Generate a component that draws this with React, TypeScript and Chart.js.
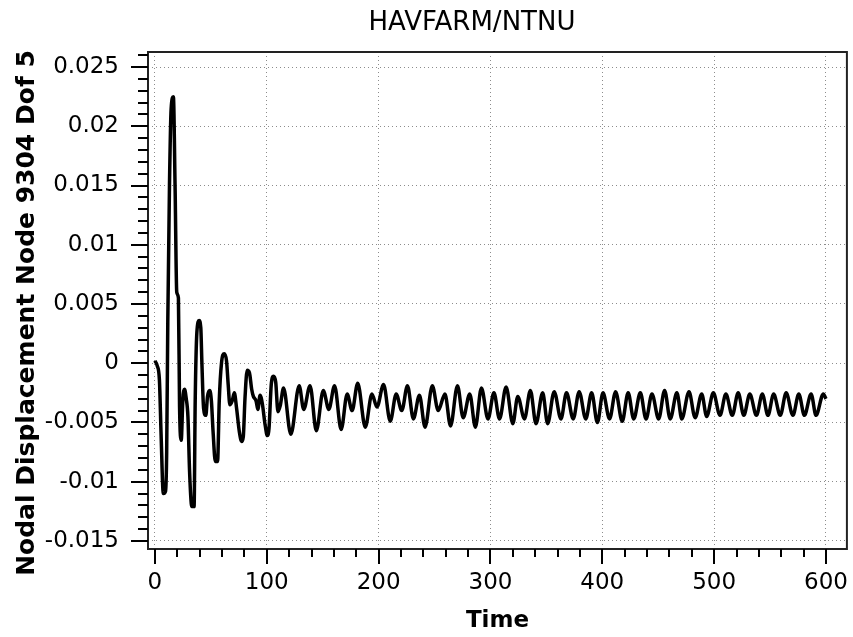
import React, { useEffect, useRef } from "react";
import { Chart, registerables } from "chart.js";

Chart.register(...registerables);

const chartTitle = "HAVFARM/NTNU";
const xTitle = "Time";
const yTitle = "Nodal Displacement Node 9304 Dof 5";

const xTickValues = [0, 100, 200, 300, 400, 500, 600];
const yTickValues = [-0.015, -0.01, -0.005, 0, 0.005, 0.01, 0.015, 0.02, 0.025];

const times = [
  0, 2, 4, 5.5, 7.5, 9.5, 10.5, 11.5, 13, 14.5, 16.5, 18, 19.5, 21, 22, 23.5, 25, 26.5, 28, 29.5,
  31, 33, 35, 36, 37.5, 39.5, 41, 42, 43.5, 45.5, 47, 49, 50.5, 52, 54, 56, 57.5, 59.5, 62, 64,
  65.5, 67, 69, 71, 73, 75.5, 77.5, 79, 80.5, 82.5, 84.5, 86.5, 88, 90.5, 92, 94, 96, 98.5, 100.5, 102,
  104, 106, 108, 110, 112, 115,
  121.5, 129, 133, 138.7, 144.3, 150.5, 155.5, 160.6, 166.5, 171.9, 176.3, 181.3, 188.1, 194, 198.5,
  204.4, 210.4, 215.7, 220.7, 225.8, 231.1, 236.5, 241.5, 248, 253.3, 259.3, 264.3, 270.5, 275.6,
  281.5, 286.5, 291.9, 297.8, 303.1, 308.1, 314, 320, 324.4, 330.4, 335.7, 340.7, 346.7, 351.1, 357,
  363, 368, 374, 379.3, 385.2, 390.5, 395.6, 400.6, 406.5, 411.9, 417.8, 423.1, 428.1, 434, 439.1,
  444.4, 450.4, 455.7, 460.7, 466.7, 471.1, 477.5, 483, 488.9, 493.3, 499.3, 505.2, 510.5, 516.2,
  521.5, 526.5, 531.9, 537.8, 543.1, 548.1, 553.2, 559.1, 564.4, 570.4, 575.7, 580.7, 586.7, 591.1,
  597.6, 600,
];

const displacement = [
  0.0002, -0.0002, -0.0014, -0.006, -0.011, -0.0108, -0.0075, 0.0035, 0.015, 0.0215, 0.0225, 0.015,
  0.006, 0.0055, -0.0036, -0.0065, -0.003, -0.0022, -0.003, -0.0045, -0.0092, -0.0121, -0.0121,
  -0.0032, 0.0026, 0.0036, 0.003, 0.0, -0.0038, -0.0044, -0.0028, -0.0023, -0.0032, -0.0058, -0.0083,
  -0.0083, -0.0032, 0.0, 0.0008, 0.0002, -0.0018, -0.0035, -0.0032, -0.0025, -0.0038, -0.0058,
  -0.0066, -0.0062, -0.003, -0.0006, -0.0008, -0.0022, -0.0028, -0.0032, -0.0039, -0.0027, -0.0034,
  -0.0052, -0.0061, -0.0055, -0.0018, -0.0011, -0.0016, -0.0041, -0.0036, -0.0021,
  -0.006, -0.0019, -0.0039, -0.0019, -0.0057, -0.0023, -0.0039, -0.0019, -0.0056, -0.0026, -0.004,
  -0.0017, -0.0054, -0.0026, -0.0037, -0.0018, -0.0049, -0.0026, -0.004, -0.0019, -0.0047, -0.0027,
  -0.0054, -0.0019, -0.004, -0.0026, -0.0053, -0.0019, -0.0046, -0.0026, -0.0054, -0.0021, -0.0047,
  -0.0025, -0.0047, -0.002, -0.0051, -0.0028, -0.0047, -0.0023, -0.0051, -0.0025, -0.0051, -0.0024,
  -0.0047, -0.0025, -0.0047, -0.0024, -0.0047, -0.0025, -0.005, -0.0025, -0.0047, -0.0024, -0.0049,
  -0.0025, -0.0047, -0.0025, -0.0047, -0.0026, -0.0047, -0.0023, -0.0047, -0.0025, -0.0047, -0.0024,
  -0.0046, -0.0026, -0.0045, -0.0025, -0.0044, -0.0026, -0.0044, -0.0025, -0.0044, -0.0026, -0.0044,
  -0.0026, -0.0044, -0.0026, -0.0044, -0.0025, -0.0044, -0.0026, -0.0044, -0.0026, -0.0044, -0.0026,
  -0.003,
];

const FONT = "'DejaVu Sans', Verdana, sans-serif";

const framePlugin = {
  id: "frameAndTicks",
  afterDraw(chart: any) {
    const { ctx, chartArea } = chart;
    const xs = chart.scales.x;
    const ys = chart.scales.y;
    ctx.save();
    ctx.fillStyle = "#000";
    ctx.font = `normal 26px ${FONT}`;
    ctx.textAlign = "center";
    ctx.textBaseline = "middle";
    ctx.fillText(chartTitle, 472, 23);
    ctx.save();
    ctx.translate(27, 313);
    ctx.rotate(-Math.PI / 2);
    ctx.font = `bold 25px ${FONT}`;
    ctx.fillText(yTitle, 0, 0);
    ctx.restore();
    ctx.strokeStyle = "#222";
    ctx.lineWidth = 2;
    ctx.strokeRect(chartArea.left, chartArea.top, chartArea.right - chartArea.left, chartArea.bottom - chartArea.top);
    ctx.strokeStyle = "#000";
    ctx.lineWidth = 2;
    ctx.beginPath();
    for (let v = 0; v <= 600; v += 20) {
      const px = Math.round(xs.getPixelForValue(v));
      const len = v % 100 === 0 ? 15 : 8;
      ctx.moveTo(px, chartArea.bottom);
      ctx.lineTo(px, chartArea.bottom + len);
    }
    for (let i = -15; i <= 26; i++) {
      const v = i / 1000;
      const py = Math.round(ys.getPixelForValue(v));
      if (py < chartArea.top || py > chartArea.bottom) continue;
      const len = i % 5 === 0 ? 17 : 10;
      ctx.moveTo(chartArea.left, py);
      ctx.lineTo(chartArea.left - len, py);
    }
    ctx.stroke();
    ctx.restore();
  },
};

export default function App() {
  const canvasRef = useRef<HTMLCanvasElement | null>(null);

  useEffect(() => {
    document.body.style.margin = "0";
    const canvas = canvasRef.current;
    if (!canvas) return;
    const points = times.map((t, i) => ({ x: t, y: displacement[i] }));
    const chart = new Chart(canvas, {
      type: "line",
      data: {
        datasets: [
          {
            data: points,
            borderColor: "#000",
            borderWidth: 3.5,
            pointRadius: 0,
            cubicInterpolationMode: "monotone",
            fill: false,
          },
        ],
      },
      options: {
        animation: false,
        responsive: false,
        maintainAspectRatio: false,
        layout: { padding: { left: 0, right: 2, top: 52, bottom: 0 } },
        plugins: {
          legend: { display: false },
          tooltip: { enabled: false },
          title: { display: false },
        },
        scales: {
          x: {
            type: "linear",
            min: -6.2,
            max: 618.7,
            afterBuildTicks: (scale: any) => {
              scale.ticks = xTickValues.map((v) => ({ value: v }));
            },
            afterFit: (scale: any) => {
              scale.height = 88;
            },
            grid: {
              color: "#8c8c8c",
              lineWidth: 1,
              drawTicks: true,
              tickLength: 15,
              tickColor: "rgba(0,0,0,0)",
            },
            border: { display: false, dash: [1, 3] },
            ticks: {
              color: "#000",
              font: { family: FONT, size: 23 },
              padding: 5,
              maxRotation: 0,
              autoSkip: false,
              callback: (v: any) => String(v),
            },
            title: {
              display: true,
              text: xTitle,
              color: "#000",
              font: { family: FONT, size: 23, weight: "bold" },
              padding: { top: 0, bottom: 2 },
            },
          },
          y: {
            type: "linear",
            min: -0.01568,
            max: 0.02627,
            afterBuildTicks: (scale: any) => {
              scale.ticks = yTickValues.map((v) => ({ value: v }));
            },
            afterFit: (scale: any) => {
              scale.width = 148;
            },
            grid: {
              color: "#8c8c8c",
              lineWidth: 1,
              drawTicks: true,
              tickLength: 17,
              tickColor: "rgba(0,0,0,0)",
            },
            border: { display: false, dash: [1, 3] },
            ticks: {
              color: "#000",
              font: { family: FONT, size: 23 },
              padding: 12,
              autoSkip: false,
              callback: (v: any) => String(Number(Number(v).toFixed(4))),
            },
            title: { display: false },
          },
        },
      },
      plugins: [framePlugin],
    } as any);
    return () => chart.destroy();
  }, []);

  return (
    <div style={{ width: 853, height: 637, background: "#fff" }}>
      <canvas ref={canvasRef} width={853} height={637} style={{ display: "block" }} />
    </div>
  );
}
